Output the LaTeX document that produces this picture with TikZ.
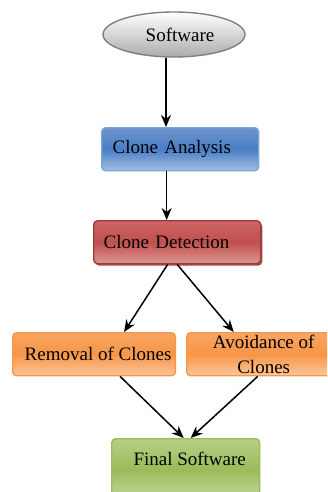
\documentclass[tikz,border=0pt]{standalone}
\usepackage{fontspec}
\setmainfont{Liberation Serif}
\usetikzlibrary{shapes.geometric,arrows.meta,shadows}

\definecolor{grayB}{HTML}{7F7F7F}
\definecolor{blueT}{HTML}{6E93CC}
\definecolor{blueM}{HTML}{4A7EC4}
\definecolor{blueL}{HTML}{A3BDE3}
\definecolor{blueB}{HTML}{7CA4DC}
\definecolor{redT}{HTML}{CC6664}
\definecolor{redM}{HTML}{C0504D}
\definecolor{redL}{HTML}{DD9694}
\definecolor{redB}{HTML}{9B3A37}
\definecolor{orT}{HTML}{F8A564}
\definecolor{orM}{HTML}{F79646}
\definecolor{orL}{HTML}{FBC79E}
\definecolor{grT}{HTML}{B7CF88}
\definecolor{grM}{HTML}{9BBB59}
\definecolor{grL}{HTML}{C5D9A0}

\begin{document}
\begin{tikzpicture}[x=0.5pt,y=-0.5pt]
	\tikzstyle{box} = [rectangle,rounded corners=2pt,line width=0.7pt,inner ysep=0pt,minimum height=21.5pt,font=\fontsize{9.5}{12.5}\selectfont,anchor=north west]
	\tikzstyle{link} = [-{Stealth[length=6pt,width=5pt]},line width=0.75pt]

		\clip (0,0) rectangle (327,492);

		\node[ellipse,draw=grayB,line width=0.7pt,top color=white,bottom color=gray!65,minimum width=71pt,minimum height=22.5pt,font=\fontsize{9.5}{12.5}\selectfont] (sw) at (174,34.5) {\hspace*{6pt}Software};
		\node[box,draw=blueB,top color=blueT,bottom color=blueL,middle color=blueM,minimum width=78.5pt,inner xsep=5.5pt,text width=67.5pt,align=left] (ana) at (101,127) {Clone Analysis};
		\node[box,draw=redB,top color=redT,bottom color=redL,middle color=redM,minimum width=83.5pt,inner xsep=5pt,text width=73.5pt,align=left,drop shadow={shadow xshift=0.8pt,shadow yshift=-1pt,fill=redB,opacity=0.9}] (det) at (93,220) {Clone Detection};
		\node[box,draw=orM,top color=orT,bottom color=orL,middle color=orM,minimum width=80pt,inner xsep=2pt] (rem) at (12,332) {\hspace*{4pt}Removal of Clones};
		\node[box,draw=orM,top color=orT,bottom color=orL,middle color=orM,minimum width=77pt,inner xsep=0pt,align=center] (avo) at (186,332) {Avoidance of\\Clones};
		\node[box,draw=grM,top color=grT,bottom color=grL,middle color=grM,minimum width=74pt,inner xsep=5pt,text height=13.25pt,text depth=17.75pt] (fin) at (111,438) {\hspace*{4pt}Final Software};

		\draw[link] ([xshift=-4pt]sw.south) -- ([xshift=-4pt]sw.south |- ana.north);
		\draw[link] ([xshift=-6.75pt]ana.south) -- ([xshift=-6.75pt]ana.south |- det.north);
		\draw[link] ([xshift=-4.75pt]det.south) -- ([xshift=15pt]rem.north);
		\draw[link] (det.south) -- ([xshift=-15pt]avo.north);
		\draw[link] ([xshift=13pt]rem.south) -- ([xshift=-1pt]fin.north);
		\draw[link] ([xshift=-3pt]avo.south) -- ([xshift=2.5pt]fin.north);
\end{tikzpicture}
\end{document}
